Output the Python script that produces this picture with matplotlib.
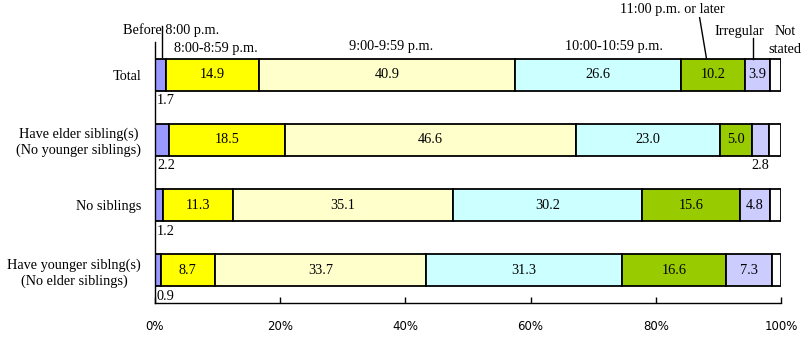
import numpy as np
import matplotlib
matplotlib.use('Agg')
import matplotlib.pyplot as plt

# data (percent)
groups = ['Total', 'Have elder sibling(s)\n(No younger siblings)', 'No siblings',
          'Have younger siblng(s)\n(No elder siblings)']
periods = ['Before 8:00 p.m.', '8:00-8:59 p.m.', '9:00-9:59 p.m.', '10:00-10:59 p.m.',
           '11:00 p.m. or later', 'Irregular', 'Not\nstated']
before_8 = [1.7, 2.2, 1.2, 0.9]
h_8 = [14.9, 18.5, 11.3, 8.7]
h_9 = [40.9, 46.6, 35.1, 33.7]
h_10 = [26.6, 23.0, 30.2, 31.3]
h_11_later = [10.2, 5.0, 15.6, 16.6]
irregular = [3.9, 2.8, 4.8, 7.3]
not_stated = [1.8, 1.9, 1.8, 1.5]
x_ticks = [0, 20, 40, 60, 80, 100]

colors = ['#9999ff', '#ffff00', '#ffffcc', '#ccffff', '#99cc00', '#ccccff', '#ffffff']
serif = 'Liberation Serif'
fs = 10.3

series = [before_8, h_8, h_9, h_10, h_11_later, irregular, not_stated]

fig = plt.figure(figsize=(8.04, 3.37), dpi=100)
ax = fig.add_axes([155 / 804, 34 / 337, 626 / 804, 261 / 337])

y = np.arange(len(groups))
left = np.zeros(len(groups))
for i, vals in enumerate(series):
    vals = np.array(vals)
    ax.barh(y, vals, left=left, height=0.49, color=colors[i], edgecolor='black', linewidth=1.3)
    for j, v in enumerate(vals):
        cx = left[j] + v / 2
        if i == 6:
            continue
        if v >= 3.5:
            ax.text(cx, y[j], f'{v:.1f}', ha='center', va='center', fontsize=fs, family=serif)
        elif i == 0:
            # small value under bar, left aligned
            ax.text(0.3, y[j] + 0.4, f'{v:.1f}', ha='left', va='center', fontsize=fs, family=serif)
        else:
            ax.text(cx, y[j] + 0.4, f'{v:.1f}', ha='center', va='center', fontsize=fs, family=serif)
    left += vals

ax.set_xlim(0, 100)
ax.set_ylim(len(groups) - 0.5, -0.5)


# header labels over the Total bar (pixel rows converted to data units)
def py(px):
    return (px - 75) / 65.3


ax.text(2.64, py(30), periods[0], ha='center', va='center', fontsize=fs, family=serif)
ax.plot([1.07, 1.07], [py(26), py(57)], color='black', lw=1, clip_on=False)
ax.text(9.8, py(49), periods[1], ha='center', va='center', fontsize=fs, family=serif)
ax.text(37.7, py(47), periods[2], ha='center', va='center', fontsize=fs, family=serif)
ax.text(73.4, py(47), periods[3], ha='center', va='center', fontsize=fs, family=serif)
ax.text(82.7, py(10), periods[4], ha='center', va='center', fontsize=fs, family=serif)
ax.plot([87.0, 88.1], [py(18), py(59)], color='black', lw=1, clip_on=False)
ax.text(93.3, py(32), periods[5], ha='center', va='center', fontsize=fs, family=serif)
ax.plot([95.6, 95.6], [py(38), py(59)], color='black', lw=1, clip_on=False)
ax.text(100.6, py(41), periods[6], ha='center', va='center', fontsize=fs, family=serif,
        linespacing=1.5, clip_on=False)

ax.set_yticks(y)
ax.set_yticklabels(groups, family=serif, fontsize=fs, multialignment='center')
ax.tick_params(axis='y', length=0, pad=10)
ax.set_xticks(x_ticks)
ax.set_xticklabels([f'{t}%' for t in x_ticks], family='DejaVu Sans', fontsize=8.5)
ax.tick_params(axis='x', direction='in', length=4, width=1, pad=12)

for s in ['top', 'right']:
    ax.spines[s].set_visible(False)
for s in ['left', 'bottom']:
    ax.spines[s].set_linewidth(1)

fig.savefig('out.png', dpi=100)
